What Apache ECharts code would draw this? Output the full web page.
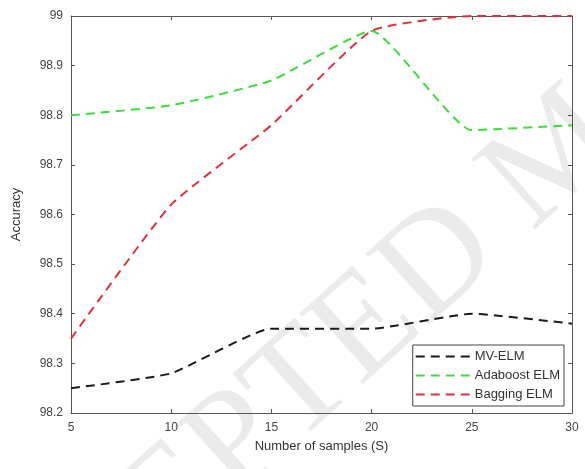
<!DOCTYPE html>
<html>
<head>
<meta charset="utf-8">
<script src="https://cdn.jsdelivr.net/npm/echarts@6/dist/echarts.min.js"></script>
<style>
  html, body { margin: 0; padding: 0; background: #fff; }
  #chart { width: 585px; height: 469px; }
</style>
</head>
<body>
<div id="chart"></div>
<script>
// 样本数
const samples = [5, 10, 15, 20, 25, 30];
// 各方法准确率
const mvElm = [98.25, 98.28, 98.37, 98.37, 98.40, 98.38];
const adaboostElm = [98.80, 98.82, 98.87, 98.97, 98.77, 98.78];
const baggingElm = [98.35, 98.62, 98.78, 98.97, 99.00, 99.00];
const seriesNames = ["MV-ELM", "Adaboost ELM", "Bagging ELM"];
const colors = ["#1a1a1a", "#3ddc3d", "#e0303a"];

const pairs = (ys) => samples.map((x, i) => [x, ys[i]]);

const font = "Liberation Sans";
const axisColor = "#555";
const wmAngle = (42 * Math.PI) / 180;

const myChart = echarts.init(document.getElementById("chart"));

// 上、右两侧只画框线和刻度
const boxAxis = {
  axisLine: { show: true, lineStyle: { color: axisColor } },
  axisTick: { show: true, inside: true, length: 4, lineStyle: { color: axisColor } },
  axisLabel: { show: false },
  splitLine: { show: false },
};

const wmText = (text, x, y, align) => ({
  type: "text",
  x,
  y,
  rotation: wmAngle,
  z: -10,
  silent: true,
  style: {
    text,
    align,
    verticalAlign: "middle",
    font: "145px 'Liberation Serif'",
    fill: "#ebebeb",
  },
});

const option = {
  animation: false,
  backgroundColor: "#fff",
  grid: { left: 71, right: 13, top: 16, bottom: 56 },
  graphic: [
    wmText("ACCEPTED", 478, 229, "right"),
    wmText("MANUSCRIPT", 506, 204, "left"),
  ],
  legend: {
    orient: "vertical",
    right: 21,
    bottom: 63,
    itemWidth: 54,
    itemHeight: 14,
    itemGap: 6,
    padding: [5, 4, 5, 2],
    borderColor: "#444",
    borderWidth: 1,
    backgroundColor: "#fff",
    itemStyle: { opacity: 0 },
    textStyle: { fontFamily: font, fontSize: 13, color: "#333" },
    data: seriesNames,
  },
  xAxis: [
    {
      type: "value",
      min: 5,
      max: 30,
      interval: 5,
      name: "Number of samples (S)",
      nameLocation: "middle",
      nameGap: 27,
      nameTextStyle: { fontFamily: font, fontSize: 13, color: "#333" },
      axisLine: { lineStyle: { color: axisColor } },
      axisTick: { inside: true, length: 4, lineStyle: { color: axisColor } },
      axisLabel: { fontFamily: font, fontSize: 12, color: "#444", margin: 9 },
      splitLine: { show: false },
    },
    Object.assign({ type: "value", position: "top", min: 5, max: 30, interval: 5 }, boxAxis),
  ],
  yAxis: [
    {
      type: "value",
      min: 98.2,
      max: 99,
      interval: 0.1,
      name: "Accuracy",
      nameLocation: "middle",
      nameGap: 48,
      nameTextStyle: { fontFamily: font, fontSize: 13, color: "#333" },
      axisLine: { show: true, lineStyle: { color: axisColor } },
      axisTick: { show: true, inside: true, length: 4, lineStyle: { color: axisColor } },
      axisLabel: {
        fontFamily: font,
        fontSize: 12,
        color: "#444",
        margin: 8,
        formatter: (v) => String(Math.round(v * 10) / 10),
      },
      splitLine: { show: false },
    },
    Object.assign({ type: "value", position: "right", min: 98.2, max: 99, interval: 0.1 }, boxAxis),
  ],
  series: [mvElm, adaboostElm, baggingElm].map((ys, i) => ({
    name: seriesNames[i],
    type: "line",
    data: pairs(ys),
    smooth: 0.15,
    symbol: "none",
    lineStyle: { color: colors[i], width: 2, type: [9, 6] },
    itemStyle: { color: colors[i] },
  })),
};

myChart.setOption(option);
</script>
</body>
</html>
